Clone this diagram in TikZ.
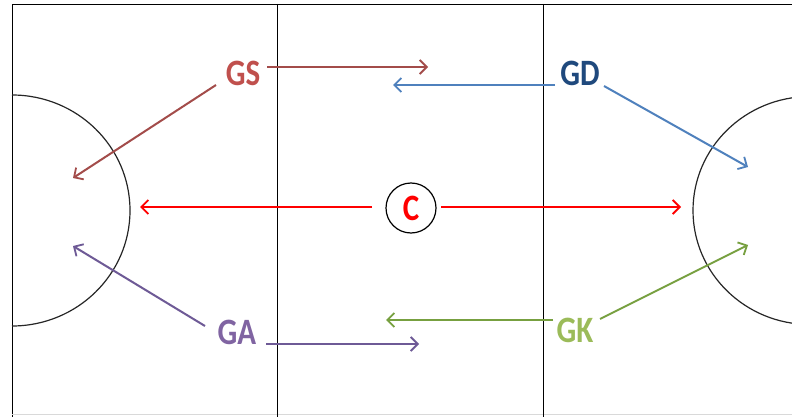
\documentclass[tikz,border=0pt]{standalone}
\usepackage{fontspec}
\setmainfont{Carlito}
\usetikzlibrary{arrows.meta}
\definecolor{gsc}{HTML}{C0504D}
\definecolor{gsl}{HTML}{A34C4A}
\definecolor{gdc}{HTML}{1F497D}
\definecolor{gdl}{HTML}{4F81BD}
\definecolor{gac}{HTML}{8064A2}
\definecolor{gal}{HTML}{6E5A96}
\definecolor{gkc}{HTML}{9BBB59}
\definecolor{gkl}{HTML}{77A040}
\tikzset{
  lbl/.style={font=\fontsize{31}{31}\selectfont\bfseries, inner sep=1pt, yscale=1.2},
  mv/.style={line width=2pt, -{Straight Barb[length=7pt,width=14pt,line width=1.8pt]}},
  court/.style={line width=0.9pt, black},
  arc/.style={line width=1.2pt, black!85}
}
\begin{document}
\begin{tikzpicture}[x=1pt,y=-1pt]
\useasboundingbox (0,0) rectangle (792,417);
\fill[white] (0,0) rectangle (792,417);
% court
\draw[court] (12,417) -- (12,4) -- (792,4);
\draw[black!15, line width=0.8pt] (12,414) -- (792,414);
\draw[court] (277,4) -- (277,417);
\draw[court] (543,4) -- (543,417);
\begin{scope}
\clip (0,0) rectangle (792,417);
\draw[arc] (12,95) arc[start angle=-90, end angle=90, x radius=118, y radius=115.5];
\draw[arc] (810,210.5) ellipse[x radius=117, y radius=114];
\end{scope}
% players
\node[lbl, text=gsc] (GS) at (243,73) {GS};
\node[lbl, text=gdc] (GD) at (580,73) {GD};
\node[lbl, text=gac] (GA) at (237,332) {GA};
\node[lbl, text=gkc] (GK) at (575,330) {GK};
\node[draw, circle, line width=1.2pt, minimum size=50pt, inner sep=0pt, font=\fontsize{31}{31}\selectfont\bfseries, text=red] (C) at (411,208) {\scalebox{1}[1.2]{C}};
% arrow endpoints
\coordinate (gsA) at (267,67);   \coordinate (gsAe) at (428,67);
\coordinate (gsB) at (216,85);   \coordinate (gsBe) at (73,178);
\coordinate (gdA) at (555,85);   \coordinate (gdAe) at (393,85);
\coordinate (gdB) at (604,86);   \coordinate (gdBe) at (748,167);
\coordinate (cL) at (372,207);   \coordinate (cLe) at (140,207);
\coordinate (cR) at (441,207);   \coordinate (cRe) at (681,207);
\coordinate (gaA) at (205,326);  \coordinate (gaAe) at (73,246);
\coordinate (gaB) at (266,344);  \coordinate (gaBe) at (419,344);
\coordinate (gkA) at (553,320);  \coordinate (gkAe) at (386,320);
\coordinate (gkB) at (600,319);  \coordinate (gkBe) at (748,245);
\draw[mv, gsl] (gsA) -- (gsAe);
\draw[mv, gsl] (gsB) -- (gsBe);
\draw[mv, gdl] (gdA) -- (gdAe);
\draw[mv, gdl] (gdB) -- (gdBe);
\draw[mv, red] (cL) -- (cLe);
\draw[mv, red] (cR) -- (cRe);
\draw[mv, gal] (gaA) -- (gaAe);
\draw[mv, gal] (gaB) -- (gaBe);
\draw[mv, gkl] (gkA) -- (gkAe);
\draw[mv, gkl] (gkB) -- (gkBe);
\end{tikzpicture}
\end{document}
